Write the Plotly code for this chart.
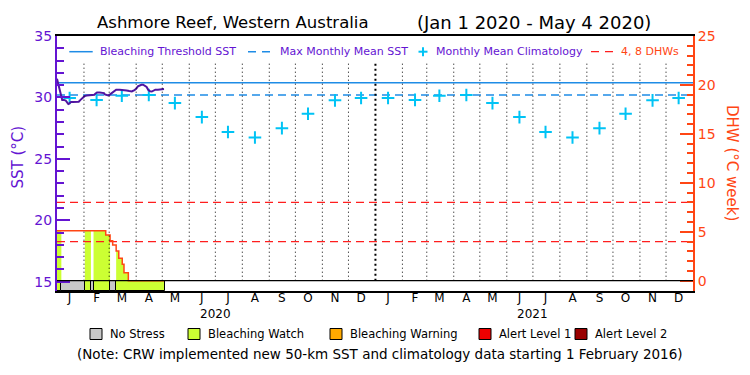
import plotly.graph_objects as go
import pandas as pd

# ------------------------------------------------------------------ data
START = pd.Timestamp('2020-01-01')
END = pd.Timestamp('2022-01-01')

# daily SST (days since 1 Jan 2020, deg C)
SST_DAY = [0, 1, 2, 3, 4, 5, 6, 8, 10, 12, 13, 14, 15, 16, 18, 20, 22, 25, 27, 28,
           30, 32, 34, 37, 40, 43, 44, 46, 49, 52, 54, 55, 57, 59, 61, 63, 65, 67, 68, 72,
           75, 77, 80, 83, 86, 89, 91, 93, 95, 97, 99, 101, 103, 105, 107, 109, 111, 113, 116, 119,
           123]
SST_VAL = [31.52, 31.2, 31.0, 30.6, 30.3, 29.9, 29.8, 29.8, 29.75, 29.55, 29.47, 29.5, 29.6, 29.62, 29.62, 29.62, 29.62, 29.65, 29.8, 29.87,
           30.0, 30.12, 30.16, 30.2, 30.2, 30.22, 30.3, 30.4, 30.41, 30.41, 30.35, 30.25, 30.18, 30.16, 30.25, 30.36, 30.5, 30.6, 30.63, 30.63,
           30.63, 30.6, 30.57, 30.52, 30.49, 30.6, 30.7, 30.9, 30.97, 31.03, 31.03, 30.97, 30.85, 30.6, 30.5, 30.48, 30.55, 30.63, 30.63, 30.65,
           30.68]

# monthly mean climatology (Jan..Dec)
CLIM = [29.95, 29.8, 30.14, 30.2, 29.54, 28.4, 27.18, 26.74, 27.5, 28.67, 29.76, 29.95]
MONTH_LETTERS = ['J', 'F', 'M', 'A', 'M', 'J', 'J', 'A', 'S', 'O', 'N', 'D']
YEARS = [2020, 2021]

MMM = 30.2
THRESHOLD = 31.2
DHW_LEVELS = [4, 8]

# degree heating weeks (step changes, days since 1 Jan 2020)
DHW_DAY = [0, 56, 61, 64, 68, 71, 75, 77, 82, 123]
DHW_VAL = [5.11, 4.67, 4.09, 3.65, 3.04, 2.29, 1.68, 0.82, 0.0, 0.0]

# daily stress level segments (0 = no stress, 1 = bleaching watch)
STRESS_START = [0, 5, 32, 39, 42, 61, 68]
STRESS_END = [5, 32, 39, 42, 61, 68, 124]
STRESS_LEVEL = [1, 0, 1, 0, 1, 0, 1]

STRESS_NAMES = ['No Stress', 'Bleaching Watch', 'Bleaching Warning', 'Alert Level 1', 'Alert Level 2']
STRESS_COLORS = ['#c8c8c8', '#ccff33', '#ffaa00', '#ee0000', '#990000']

# ------------------------------------------------------------------ style
PURPLE = '#6414d2'
SST_LINE = '#5014a0'
BLUE = '#1e8ce6'
CYAN = '#00c3f5'
DHW_C = '#ff4614'
RED = '#ff1e1e'
FONT = 'DejaVu Sans'

W, H = 750, 375
L, R, T, B = 57, 693, 36, 291
Y_MIN = 15 - (B - 281.7) / ((281.7 - T) / 20.0)
Y2_MIN = -(B - 280.7) / ((280.7 - T) / 25.0)


def px_x(p):
    return (p - L) / (R - L)


def px_y(p):
    return (B - p) / (B - T)


def day(d):
    return START + pd.Timedelta(days=d)


def dhw_at(d):
    v = DHW_VAL[0]
    for bd, bv in zip(DHW_DAY, DHW_VAL):
        if bd <= d:
            v = bv
    return v


fig = go.Figure()

# fill under DHW curve coloured by stress level
for s, e, lev in zip(STRESS_START, STRESS_END, STRESS_LEVEL):
    if lev == 0:
        continue
    pts = [s] + [b for b in DHW_DAY if s < b < e] + [e]
    ys = [dhw_at(p) for p in pts[:-1]] + [dhw_at(pts[-2])]
    fig.add_trace(go.Scatter(x=[day(p) for p in pts], y=ys, yaxis='y2', mode='lines',
                             line=dict(width=0, shape='hv'), fill='tozeroy',
                             fillcolor=STRESS_COLORS[lev], hoverinfo='skip'))

# stress bar along the bottom
fig.add_trace(go.Bar(
    x=[day((s + e) / 2) for s, e in zip(STRESS_START, STRESS_END)],
    width=[(e - s) * 86400000 for s, e in zip(STRESS_START, STRESS_END)],
    y=[-Y2_MIN] * len(STRESS_START), base=[Y2_MIN] * len(STRESS_START),
    yaxis='y2', marker=dict(color=[STRESS_COLORS[l] for l in STRESS_LEVEL],
                            line=dict(color='black', width=1)),
    hoverinfo='skip'))

# reference lines
fig.add_trace(go.Scatter(x=[START, END], y=[THRESHOLD, THRESHOLD], mode='lines',
                         line=dict(color=BLUE, width=1.5)))
fig.add_trace(go.Scatter(x=[START, END], y=[MMM, MMM], mode='lines',
                         line=dict(color=BLUE, width=1.5, dash='8px,5px')))
for lv in DHW_LEVELS:
    fig.add_trace(go.Scatter(x=[START, END], y=[lv, lv], yaxis='y2', mode='lines',
                             line=dict(color=RED, width=1.2, dash='8px,5px')))

# climatology crosses
clim_x = [pd.Timestamp(y, m + 1, 15, 12) for y in YEARS for m in range(12)]
clim_y = [CLIM[m] for y in YEARS for m in range(12)]
fig.add_trace(go.Scatter(x=clim_x, y=clim_y, mode='markers',
                         marker=dict(symbol='cross-thin', size=9,
                                     line=dict(color=CYAN, width=2))))

# SST
fig.add_trace(go.Scatter(x=[day(d) for d in SST_DAY], y=SST_VAL, mode='lines',
                         line=dict(color=SST_LINE, width=2)))

# DHW curve
fig.add_trace(go.Scatter(x=[day(d) for d in DHW_DAY], y=DHW_VAL, yaxis='y2', mode='lines',
                         line=dict(color=DHW_C, width=1.5, shape='hv')))

shapes = []
# month separators
for y in YEARS:
    for m in range(1, 13):
        if y == 2020 and m == 1:
            continue
        ts = pd.Timestamp(y, m, 1)
        yr = (m == 1)
        shapes.append(dict(type='line', xref='x', yref='y2', x0=ts, x1=ts, y0=0, y1=22.2,
                           line=dict(color='black', width=2 if yr else 1,
                                     dash='2px,3px' if yr else '1px,3px'), layer='above'))
# zero line on top of stress bar
shapes.append(dict(type='line', xref='paper', yref='y2', x0=0, x1=1, y0=0, y1=0,
                   line=dict(color='black', width=1.2)))

annotations = []
# top legend
LY = px_y(51.7)
shapes.append(dict(type='line', xref='paper', yref='paper', x0=px_x(69.3), x1=px_x(92.7), y0=LY, y1=LY,
                   line=dict(color=BLUE, width=1.5)))
shapes.append(dict(type='line', xref='paper', yref='paper', x0=px_x(248), x1=px_x(271), y0=LY, y1=LY,
                   line=dict(color=BLUE, width=1.5, dash='8px,6px')))
shapes.append(dict(type='line', xref='paper', yref='paper', x0=px_x(418.5), x1=px_x(427.5), y0=LY, y1=LY,
                   line=dict(color=CYAN, width=2)))
shapes.append(dict(type='line', xref='paper', yref='paper', x0=px_x(423), x1=px_x(423), y0=px_y(47.2), y1=px_y(56.2),
                   line=dict(color=CYAN, width=2)))
shapes.append(dict(type='line', xref='paper', yref='paper', x0=px_x(591), x1=px_x(613), y0=LY, y1=LY,
                   line=dict(color=RED, width=1.2, dash='8px,6px')))
for txt, xp, col in [('Bleaching Threshold SST', 98, PURPLE), ('Max Monthly Mean SST', 278, PURPLE),
                     ('Monthly Mean Climatology', 434, PURPLE), ('4, 8 DHWs', 619, DHW_C)]:
    annotations.append(dict(text=txt, xref='paper', yref='paper', x=px_x(xp), y=LY, xanchor='left',
                            yanchor='middle', showarrow=False, font=dict(size=11, color=col, family=FONT)))

# title
annotations.append(dict(text='Ashmore Reef, Western Australia', xref='paper', yref='paper',
                        x=px_x(232.7), y=px_y(23), xanchor='center', yanchor='middle', showarrow=False,
                        font=dict(size=16.5, color='black', family=FONT)))
annotations.append(dict(text='(Jan 1 2020 - May 4 2020)', xref='paper', yref='paper',
                        x=px_x(534), y=px_y(23), xanchor='center', yanchor='middle', showarrow=False,
                        font=dict(size=18, color='black', family=FONT)))

# axis titles
annotations.append(dict(text='SST (°C)', xref='paper', yref='paper', x=px_x(17.5), y=px_y(157),
                        textangle=-90, xanchor='center', yanchor='middle', showarrow=False,
                        font=dict(size=15, color=PURPLE, family=FONT)))
annotations.append(dict(text='DHW (°C week)', xref='paper', yref='paper', x=px_x(732.5), y=px_y(162.5),
                        textangle=90, xanchor='center', yanchor='middle', showarrow=False,
                        font=dict(size=15, color=DHW_C, family=FONT)))

# years
for y in YEARS:
    annotations.append(dict(text=str(y), xref='x', yref='paper', x=pd.Timestamp(y, 7, 1), y=px_y(314),
                            xanchor='center', yanchor='middle', showarrow=False,
                            font=dict(size=12, color='black', family=FONT)))

# bottom legend
SQ_X = [90, 188, 330, 479, 575]
for name, col, sx in zip(STRESS_NAMES, STRESS_COLORS, SQ_X):
    shapes.append(dict(type='rect', xref='paper', yref='paper', x0=px_x(sx), x1=px_x(sx + 12),
                       y0=px_y(339.5), y1=px_y(328.5), fillcolor=col, line=dict(color='black', width=1)))
    annotations.append(dict(text=name, xref='paper', yref='paper', x=px_x(sx + 18), y=px_y(334),
                            xanchor='left', yanchor='middle', showarrow=False,
                            font=dict(size=11.5, color='black', family=FONT)))

annotations.append(dict(text='(Note: CRW implemented new 50-km SST and climatology data starting 1 February 2016)',
                        xref='paper', yref='paper', x=px_x(380), y=px_y(354), xanchor='center', yanchor='middle',
                        showarrow=False, font=dict(size=13.5, color='black', family=FONT)))

fig.update_layout(
    width=W, height=H, autosize=False,
    margin=dict(l=L, r=W - R, t=T, b=H - B, pad=0),
    paper_bgcolor='white', plot_bgcolor='white', showlegend=False,
    font=dict(family=FONT, color='black'),
    bargap=0,
    xaxis=dict(type='date', range=[START, END], tickvals=clim_x,
               ticktext=[MONTH_LETTERS[m] for y in YEARS for m in range(12)],
               ticks='', showgrid=False, zeroline=False, showline=True, mirror=True,
               linecolor='black', linewidth=1.5, tickfont=dict(size=12, color='black'), tickangle=0,
               ticklabelstandoff=-5),
    yaxis=dict(range=[Y_MIN, 35], tickvals=[15, 20, 25, 30, 35], ticks='inside', ticklen=13,
               tickwidth=1.5, tickcolor=PURPLE, showline=True, linecolor=PURPLE, linewidth=2,
               tickfont=dict(size=14, color=PURPLE), showgrid=False, zeroline=False,
               minor=dict(ticks='inside', dtick=1, tick0=15, ticklen=7, tickcolor=PURPLE, tickwidth=1.5)),
    yaxis2=dict(range=[Y2_MIN, 25], overlaying='y', side='right', tickvals=[0, 5, 10, 15, 20, 25],
                ticks='inside', ticklen=13, tickwidth=1.5, tickcolor=DHW_C, showline=True,
                linecolor=DHW_C, linewidth=2, tickfont=dict(size=14, color=DHW_C),
                showgrid=False, zeroline=False,
                minor=dict(ticks='inside', dtick=1, tick0=0, ticklen=6, tickcolor=DHW_C, tickwidth=1.5)),
    shapes=shapes, annotations=annotations,
)

fig.write_html('out.html', config={'displayModeBar': False},
               post_script="document.body.style.margin='0px';document.body.style.overflow='hidden';")
